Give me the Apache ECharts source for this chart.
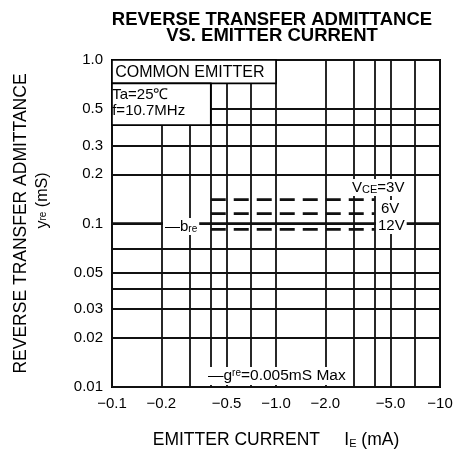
<!DOCTYPE html>
<html>
<head>
<meta charset="utf-8">
<script src="https://cdn.jsdelivr.net/npm/echarts@6/dist/echarts.min.js"></script>
<style>
  html, body { margin: 0; background: #fff; }
  #chart { width: 458px; height: 454px; }
</style>
</head>
<body>
<div id="chart"></div>
<script>
// emitter current magnitude (mA), plotted as -IE on the labels
const xGridValues = [0.1, 0.2, 0.3, 0.4, 0.5, 0.7, 1, 2, 3, 4, 5, 7, 10];
const xLabelValues = [0.1, 0.2, 0.5, 1, 2, 5, 10];
const xLabelTexts = ["\u22120.1", "\u22120.2", "\u22120.5", "\u22121.0", "\u22122.0", "\u22125.0", "\u221210"];

// yre (mS)
const yGridValues = [0.01, 0.02, 0.03, 0.04, 0.05, 0.07, 0.1, 0.2, 0.3, 0.4, 0.5, 1];
const yLabelValues = [0.01, 0.02, 0.03, 0.05, 0.1, 0.2, 0.3, 0.5, 1];
const yLabelTexts = ["0.01", "0.02", "0.03", "0.05", "0.1", "0.2", "0.3", "0.5", "1.0"];

// |yre| for VCE = 3V, 6V, 12V (dashed)
const vceNames = ["3V", "6V", "12V"];
const vceCurrent = [0.4, 4];
const vceYre = [0.14, 0.115, 0.092];

// bre (solid)
const breCurrent = [0.1, 10];
const breValue = 0.1;

// note boxes in data coords
const boxCommon = [[0.1, 1], [1, 0.72]];
const boxCond = [[0.1, 0.72], [0.4, 0.4]];

const font = "Liberation Sans, Arial, Helvetica, sans-serif";

const pickLabel = (values, texts, v) => {
  const i = values.findIndex((t) => Math.abs(Math.log10(t) - Math.log10(v)) < 0.01);
  return i < 0 ? "" : texts[i];
};

const chart = echarts.init(document.getElementById("chart"));

const vceSeries = vceNames.map((name, i) => ({
  name: name,
  type: "line",
  data: vceCurrent.map((x) => [x, vceYre[i]]),
  symbol: "none",
  z: 3,
  lineStyle: { color: "#111", width: 2.6, type: [15, 8] },
}));

const option = {
  animation: false,
  title: {
    text: "REVERSE TRANSFER ADMITTANCE\nVS. EMITTER CURRENT",
    left: 267,
    top: 7,
    textAlign: "center",
    textStyle: { fontFamily: font, fontSize: 18.5, fontWeight: "bold", color: "#000", lineHeight: 16 },
  },
  grid: {
    left: 112,
    right: 18,
    top: 60,
    bottom: 67,
    outerBoundsMode: "none",
    containLabel: false,
    show: true,
    borderColor: "#000",
    borderWidth: 2,
  },
  xAxis: {
    type: "log",
    min: 0.1,
    max: 10,
    name: "EMITTER CURRENT     {i|I}{s|E}{i| (mA)}",
    nameLocation: "middle",
    nameGap: 44,
    nameTextStyle: {
      fontFamily: font,
      fontSize: 17.5,
      color: "#000",
      rich: {
        i: { fontFamily: font, fontSize: 17.5, color: "#000" },
        s: { fontFamily: font, fontSize: 11, color: "#000", verticalAlign: "bottom" },
      },
    },
    axisLine: { show: false },
    axisTick: { show: false, customValues: xGridValues },
    axisLabel: {
      customValues: xLabelValues,
      formatter: (v) => pickLabel(xLabelValues, xLabelTexts, v),
      fontFamily: font,
      fontSize: 15,
      color: "#000",
      margin: 9,
    },
    splitLine: { show: true, lineStyle: { color: "#111", width: 1.8 } },
  },
  yAxis: {
    type: "log",
    min: 0.01,
    max: 1,
    name: "{a|REVERSE TRANSFER ADMITTANCE}\n{b|y}{s|re}{c| (mS)}",
    nameLocation: "middle",
    nameGap: 58,
    nameTextStyle: {
      rich: {
        a: { fontFamily: font, fontSize: 17.5, color: "#000", lineHeight: 22 },
        b: { fontFamily: font, fontSize: 16, color: "#000", lineHeight: 22, padding: [0, 0, 0, 46] },
        s: { fontFamily: font, fontSize: 10, color: "#000", lineHeight: 22 },
        c: { fontFamily: font, fontSize: 16, color: "#000", lineHeight: 22 },
      },
    },
    axisLine: { show: false },
    axisTick: { show: false, customValues: yGridValues },
    axisLabel: {
      customValues: yLabelValues,
      formatter: (v) => pickLabel(yLabelValues, yLabelTexts, v),
      fontFamily: font,
      fontSize: 15,
      color: "#000",
      margin: 9,
    },
    splitLine: { show: true, lineStyle: { color: "#111", width: 1.8 } },
  },
  series: [
    {
      name: "bre",
      type: "line",
      data: breCurrent.map((x) => [x, breValue]),
      symbol: "none",
      z: 3,
      lineStyle: { color: "#111", width: 2.6 },
      markArea: {
        silent: true,
        itemStyle: { color: "#fff", borderColor: "#000", borderWidth: 1.6 },
        label: { fontFamily: font, color: "#000" },
        data: [
          [
            { coord: boxCommon[0], label: { show: true, position: "insideLeft", fontSize: 16, offset: [-1, 1] }, name: "COMMON EMITTER" },
            { coord: boxCommon[1] },
          ],
          [
            { coord: boxCond[0], label: { show: true, position: "insideTopLeft", fontSize: 15, lineHeight: 16, offset: [-4, -1] }, name: "Ta=25\u2103\nf=10.7MHz" },
            { coord: boxCond[1] },
          ],
        ],
      },
    },
    ...vceSeries,
  ],
  graphic: [
    {
      type: "text", left: 350, top: 179, z: 100,
      style: {
        text: "V{s|CE}=3V", fontFamily: font, fontSize: 15, fill: "#000",
        backgroundColor: "#fff", padding: [1, 2],
        rich: { s: { fontFamily: font, fontSize: 11, fill: "#000", verticalAlign: "bottom" } },
      },
    },
    {
      type: "text", left: 379, top: 200, z: 100,
      style: { text: "6V", fontFamily: font, fontSize: 15, fill: "#000", backgroundColor: "#fff", padding: [1, 2] },
    },
    {
      type: "text", left: 376, top: 217, z: 100,
      style: { text: "12V", fontFamily: font, fontSize: 15, fill: "#000", backgroundColor: "#fff", padding: [1, 2] },
    },
    {
      type: "text", left: 163, top: 218, z: 100,
      style: {
        text: "\u2014b{s|re}", fontFamily: font, fontSize: 15, fill: "#000",
        backgroundColor: "#fff", padding: [1, 2],
        rich: { s: { fontFamily: font, fontSize: 10, fill: "#000", verticalAlign: "bottom" } },
      },
    },
    {
      type: "text", left: 206, top: 367, z: 100,
      style: {
        text: "\u2014g{s|re}=0.005mS Max", fontFamily: font, fontSize: 15.5, fill: "#000",
        backgroundColor: "#fff", padding: [1, 3, 1, 2],
        rich: { s: { fontFamily: font, fontSize: 10, fill: "#000", verticalAlign: "top" } },
      },
    },
  ],
};

chart.setOption(option);
window.addEventListener("resize", () => {
  chart && chart.resize();
});
</script>
</body>
</html>
